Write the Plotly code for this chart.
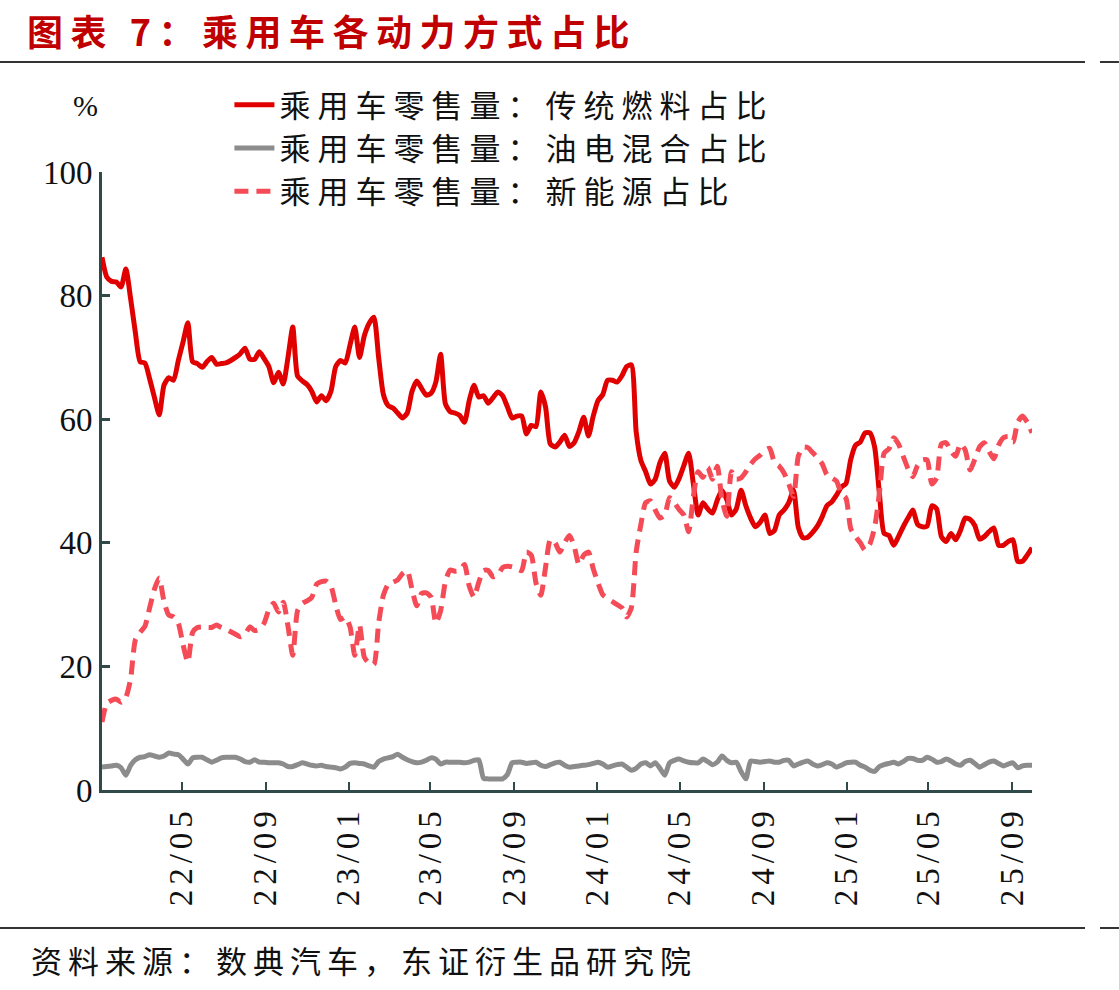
import pandas as pd
import plotly.graph_objects as go

# ---- data (weekly) ----
start_date = "2022-01-04"
n_weeks = 196
dates = pd.date_range(start_date, periods=n_weeks, freq="7D")

fuel_share = [
    86.2, 83.0, 82.3, 82.2, 81.4, 84.3, 79.5, 74.0, 69.3, 69.1,
    66.5, 63.5, 60.7, 65.5, 66.7, 66.3, 69.5, 72.5, 75.6, 69.3,
    69.0, 68.4, 69.3, 70.0, 68.9, 69.0, 69.1, 69.5, 70.0, 70.6,
    71.5, 69.7, 69.7, 70.9, 69.8, 68.5, 65.9, 67.6, 65.7, 70.0,
    74.9, 67.0, 66.2, 65.6, 64.5, 62.8, 63.8, 63.0, 64.5, 68.5,
    69.5, 69.1, 72.0, 74.9, 70.0, 73.5, 75.5, 76.5, 70.0, 64.0,
    62.2, 61.8, 61.0, 60.2, 61.0, 64.5, 66.2, 65.0, 63.9, 64.2,
    66.0, 70.5, 62.5, 61.2, 61.0, 60.6, 59.5, 63.0, 65.5, 63.6,
    63.8, 62.6, 63.5, 64.4, 63.8, 62.0, 60.2, 60.5, 60.5, 57.6,
    59.0, 58.8, 64.4, 62.0, 56.0, 55.5, 56.3, 57.4, 55.6, 56.2,
    58.0, 60.3, 57.3, 60.5, 63.0, 64.0, 66.3, 66.3, 66.0, 67.0,
    68.5, 68.8, 58.0, 53.3, 51.5, 49.5, 50.3, 53.0, 54.5, 50.0,
    49.0, 50.4, 52.5, 54.5, 49.5, 44.5, 46.5, 45.5, 44.8, 46.9,
    48.5, 47.0, 44.5, 45.5, 48.5, 46.0, 44.0, 42.6, 43.3, 44.5,
    41.5, 42.0, 44.5, 45.3, 46.5, 48.5, 42.5, 40.8, 40.9, 41.7,
    42.7, 44.2, 46.0, 46.6, 47.7, 49.0, 49.6, 53.5, 55.8, 56.3,
    57.8, 57.8, 55.5, 48.0, 41.5, 41.2, 39.6, 41.0, 42.6, 44.0,
    45.3, 43.0, 42.6, 42.7, 46.0, 45.5, 41.0, 40.2, 41.5, 40.5,
    42.0, 44.0, 43.8, 42.8, 40.6, 41.0, 41.8, 42.4, 39.6, 39.6,
    40.2, 40.5, 37.0, 37.0, 38.0, 39.2,
]

hybrid_share = [
    3.7, 3.8, 3.9, 4.0, 3.6, 2.4, 4.0, 4.9, 5.3, 5.4,
    5.7, 5.5, 5.3, 5.5, 6.0, 5.8, 5.7, 5.0, 4.2, 5.2,
    5.3, 5.3, 4.9, 4.5, 4.8, 5.2, 5.3, 5.3, 5.3, 5.0,
    4.6, 4.5, 4.9, 4.5, 4.5, 4.4, 4.4, 4.4, 4.2, 3.8,
    3.8, 4.1, 4.4, 4.2, 4.0, 3.9, 4.0, 3.8, 3.7, 3.6,
    3.4, 3.7, 4.3, 4.4, 4.3, 4.2, 3.9, 3.7, 4.6, 5.0,
    5.2, 5.4, 5.8, 5.3, 4.9, 4.6, 4.4, 4.5, 4.8, 5.2,
    5.0, 4.2, 4.5, 4.5, 4.5, 4.5, 4.4, 4.5, 4.8, 4.9,
    1.9, 1.8, 1.8, 1.8, 1.8, 2.5, 4.4, 4.5, 4.5, 4.3,
    4.4, 4.5, 4.0, 3.8, 4.1, 4.4, 4.5, 4.0, 3.7, 3.8,
    3.9, 4.0, 4.1, 4.3, 4.5, 4.2, 3.7, 3.9, 4.1, 4.2,
    3.7, 3.2, 3.5, 4.2, 4.4, 3.9, 4.4, 3.5, 2.4, 4.4,
    4.8, 5.0, 4.7, 4.5, 4.4, 4.4, 5.0, 4.6, 4.1, 4.5,
    5.5, 4.8, 4.4, 4.5, 3.0, 1.8, 4.7, 4.6, 4.5, 4.6,
    4.7, 4.5, 4.5, 4.8, 4.8, 3.9, 4.2, 4.5, 4.7, 4.2,
    3.9, 4.1, 4.4, 4.2, 3.7, 4.0, 4.4, 4.5, 4.5, 4.0,
    3.7, 3.2, 3.0, 3.8, 4.1, 4.3, 4.5, 4.2, 4.6, 5.1,
    5.1, 4.8, 4.8, 5.3, 5.0, 4.5, 4.6, 5.0, 4.7, 4.2,
    4.0, 4.6, 4.8, 4.3, 3.7, 4.1, 4.5, 4.7, 4.3, 3.9,
    4.2, 4.4, 3.6, 3.9, 4.0, 4.0,
]

nev_share = [
    11.0, 14.0, 14.5, 14.7, 14.2, 15.0, 18.0, 24.3, 25.5, 26.5,
    29.5, 32.5, 34.3, 30.5, 28.3, 28.0, 27.0, 23.5, 20.7, 25.5,
    26.3, 26.4, 26.3, 26.3, 26.7, 26.3, 26.0, 25.6, 25.2, 24.8,
    25.2, 26.4, 25.8, 26.0, 27.0, 29.2, 30.2, 28.8, 30.4, 26.5,
    21.8, 29.0, 30.2, 30.6, 31.2, 33.3, 33.7, 33.8, 33.0, 30.0,
    27.6, 28.0, 26.4, 21.8, 26.7, 21.5, 20.5, 20.3, 27.0, 31.5,
    33.3, 33.6, 34.0, 35.0, 35.5, 32.5, 29.8, 31.8, 31.9, 31.2,
    27.0, 29.0, 33.7, 35.6, 35.4, 35.5, 36.5, 33.0, 31.2, 33.6,
    35.5, 35.5, 34.5, 34.8, 36.0, 36.2, 36.1, 35.8, 35.5, 38.5,
    38.0, 33.5, 31.5, 36.0, 40.5, 40.0, 38.5, 40.0, 41.2, 39.5,
    36.5, 38.0, 38.5, 35.8, 33.5, 31.6, 31.0, 30.5, 30.0, 29.5,
    28.0, 29.5, 38.5, 43.0, 46.5, 46.8, 45.3, 44.0, 44.5, 47.3,
    46.5, 45.4, 44.5, 41.8, 47.5, 51.5, 50.6, 52.2, 50.3, 52.4,
    47.0, 44.3, 51.5, 50.3, 50.5, 51.5, 52.7, 53.6, 54.2, 55.0,
    55.3, 53.0, 52.4, 51.3, 49.5, 47.5, 54.0, 55.5, 55.4, 54.6,
    53.8, 52.8, 51.0, 50.5, 50.0, 48.0, 47.2, 42.3, 41.0, 40.0,
    38.8, 39.8, 42.5, 48.0, 54.5, 55.2, 57.0, 56.0, 54.0, 52.0,
    50.7, 52.5, 53.4, 53.4, 49.5, 50.5, 56.0, 56.2, 54.8, 54.0,
    56.0, 55.0, 51.8, 53.5, 55.5, 56.2, 54.8, 53.6, 55.8, 57.0,
    57.2, 56.3, 59.5, 60.5, 59.5, 57.8,
]

series_names = [
    "乘用车零售量：传统燃料占比",
    "乘用车零售量：油电混合占比",
    "乘用车零售量：新能源占比",
]

tick_dates = ["2022-05-01", "2022-09-01", "2023-01-01", "2023-05-01", "2023-09-01",
              "2024-01-01", "2024-05-01", "2024-09-01", "2025-01-01", "2025-05-01",
              "2025-09-01"]
tick_labels = ["22/05", "22/09", "23/01", "23/05", "23/09", "24/01", "24/05",
               "24/09", "25/01", "25/05", "25/09"]
y_ticks = [0, 20, 40, 60, 80, 100]

# ---- figure ----
AXIS = "#2F4A48"
SERIF = "Liberation Serif, Times New Roman, serif"
CJK = "Noto Sans CJK SC"


def spaced(text, px):
    return f'<span style="letter-spacing:{px}px">{text}</span>'


fig = go.Figure()
fig.add_trace(go.Scatter(x=dates, y=fuel_share, name=spaced(series_names[0], 7), mode="lines",
                         line=dict(color="#E00000", width=5, shape="spline", smoothing=0.6)))
fig.add_trace(go.Scatter(x=dates, y=hybrid_share, name=spaced(series_names[1], 7), mode="lines",
                         line=dict(color="#8C8C8C", width=5, shape="spline", smoothing=0.6)))
fig.add_trace(go.Scatter(x=dates, y=nev_share, name=spaced(series_names[2], 7), mode="lines",
                         line=dict(color="#F44B57", width=5, dash="14px,8px",
                                   shape="spline", smoothing=0.6)))

fig.update_layout(
    width=1119, height=990,
    margin=dict(l=102, r=87, t=172, b=200),
    paper_bgcolor="white", plot_bgcolor="white",
    showlegend=True,
    legend=dict(x=0.137, y=1.152, xanchor="left", yanchor="top",
                bgcolor="rgba(0,0,0,0)", font=dict(family=CJK, size=31, color="#111"),
                tracegroupgap=0, itemwidth=40),
    xaxis=dict(type="date", range=["2022-01-04", "2025-09-30"],
               tickvals=tick_dates, ticktext=[spaced(t, 5) for t in tick_labels],
               tickangle=-90,
               ticks="inside", ticklen=8, tickwidth=2, tickcolor=AXIS,
               showline=True, linecolor=AXIS, linewidth=3, showgrid=False, zeroline=False,
               tickfont=dict(family=SERIF, size=33, color="#111")),
    yaxis=dict(range=[0, 100], tickvals=y_ticks, ticks="inside", ticklen=8, tickwidth=3,
               tickcolor=AXIS, showline=True, linecolor=AXIS, linewidth=3,
               showgrid=False, zeroline=False,
               tickfont=dict(family=SERIF, size=33, color="#111")),
)

fig.add_annotation(text="<b>" + spaced("图表 7：乘用车各动力方式占比", 7.5) + "</b>",
                   xref="paper", yref="paper",
                   x=-0.083, y=1.2298, xanchor="left", yanchor="middle", showarrow=False,
                   font=dict(family=CJK, size=36, color="#C00000"))
fig.add_annotation(text="%", xref="paper", yref="paper", x=-0.018, y=1.108,
                   xanchor="center", yanchor="middle", showarrow=False,
                   font=dict(family=SERIF, size=30, color="#111"))
fig.add_annotation(text=spaced("资料来源：数典汽车，东证衍生品研究院", 6),
                   xref="paper", yref="paper",
                   x=-0.078, y=-0.275, xanchor="left", yanchor="middle", showarrow=False,
                   font=dict(family=CJK, size=31, color="#111"))

for yy in (1.178, -0.2233):
    fig.add_shape(type="line", xref="paper", yref="paper", x0=-0.1097, x1=1.057,
                  y0=yy, y1=yy, line=dict(color="#333", width=2))
    fig.add_shape(type="line", xref="paper", yref="paper", x0=1.0731, x1=1.0935,
                  y0=yy, y1=yy, line=dict(color="#333", width=2))

fig.write_html("out.html")
